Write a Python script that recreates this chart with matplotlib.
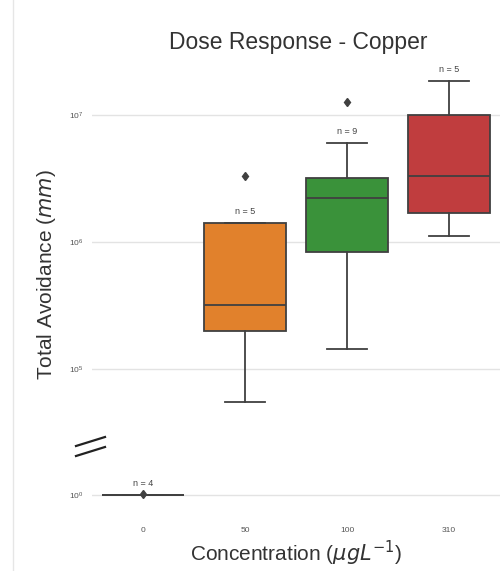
import numpy as np
import matplotlib
matplotlib.use("Agg")
import matplotlib.pyplot as plt
from matplotlib.lines import Line2D
from matplotlib.ticker import LogLocator, NullLocator

plt.rcParams['font.family'] = ['Liberation Sans', 'DejaVu Sans']
plt.rcParams['mathtext.fontset'] = 'dejavusans'

# dados
concentrations = ["0", "50", "100", "310"]
avoid_0 = [1, 1, 1, 1.02]
avoid_50 = [5.5e4, 2.0e5, 3.2e5, 1.4e6, 3.3e6]
avoid_100 = [1.45e5, 5.0e5, 8.3e5, 1.2e6, 2.2e6, 2.6e6, 3.2e6, 6.0e6, 1.25e7]
avoid_310 = [1.12e6, 1.7e6, 3.3e6, 1.0e7, 1.85e7]
groups = [avoid_0, avoid_50, avoid_100, avoid_310]

colors = ["#3a6ea7", "#e1812c", "#3a923a", "#c03d3e"]
dark = "#404040"

fig = plt.figure(figsize=(5.02, 5.71), dpi=100)
# eixo de cima (valores grandes) e eixo de baixo (10^0)
ax_top = fig.add_axes([92/502, 1 - 425/571, 408/502, 365/571])
ax_bot = fig.add_axes([92/502, 1 - 520/571, 408/502, 50/571])

for ax in (ax_top, ax_bot):
    bp = ax.boxplot(groups, positions=range(4), widths=0.8, patch_artist=True,
                    whis=1.5, zorder=3,
                    boxprops=dict(edgecolor=dark, linewidth=1.3),
                    medianprops=dict(color=dark, linewidth=1.3),
                    whiskerprops=dict(color=dark, linewidth=1.3),
                    capprops=dict(color=dark, linewidth=1.3),
                    flierprops=dict(marker='d', markerfacecolor=dark,
                                    markeredgecolor=dark, markersize=4.5))
    for patch, c in zip(bp['boxes'], colors):
        patch.set_facecolor(c)
    for cap in bp['caps']:
        x = cap.get_xdata()
        mid = x.mean()
        cap.set_xdata([mid - 0.2, mid + 0.2])
    ax.set_yscale('log')
    ax.set_xlim(-0.5, 3.5)
    for s in ax.spines.values():
        s.set_visible(False)
    ax.yaxis.set_major_locator(LogLocator(base=10, numticks=20))
    ax.yaxis.set_minor_locator(NullLocator())
    ax.grid(axis='y', color='#e3e3e3', linewidth=1, zorder=0)
    ax.set_axisbelow(True)
    ax.tick_params(axis='both', length=0, labelsize=6, colors='#555555', pad=6)

ax_top.set_ylim(10**4.56, 10**7.43)
ax_top.set_xticks([])
ax_bot.set_ylim(10**-0.2, 10**0.2)
ax_bot.set_xticks(range(4))
ax_bot.set_xticklabels(concentrations)
ax_bot.tick_params(axis='x', pad=5)

# rótulos n = ...
for i, g in enumerate(groups):
    g = np.array(g)
    q1, q3 = np.percentile(g, [25, 75])
    hi = g[g <= q3 + 1.5 * (q3 - q1)].max()
    ax = ax_bot if i == 0 else ax_top
    ax.annotate(f"n = {len(g)}", (i, hi), xytext=(0, 5), textcoords='offset points',
                ha='center', va='bottom', fontsize=6.5, color='#444444')

# marcas de quebra do eixo
for dy in (0, 10):
    fig.add_artist(Line2D([76/502, 105/502], [1 - (446 + dy)/571, 1 - (437 + dy)/571],
                          color='#222222', linewidth=1.6))

# linha vertical clara à esquerda
fig.add_artist(Line2D([13/502, 13/502], [0, 1], color='#e6e6e6', linewidth=1))

fig.suptitle("Dose Response - Copper", x=298/502, y=1 - 42/571, va='center',
             fontsize=16.5, color='#333333')
fig.text(47/502, 1 - 275/571, "Total Avoidance ($mm$)", rotation=90,
         ha='center', va='center', fontsize=15, color='#333333')
fig.text(296/502, 1 - 553/571, r"Concentration ($\mu gL^{-1}$)", ha='center',
         va='center', fontsize=15, color='#333333')

plt.savefig("out.png", dpi=100)
